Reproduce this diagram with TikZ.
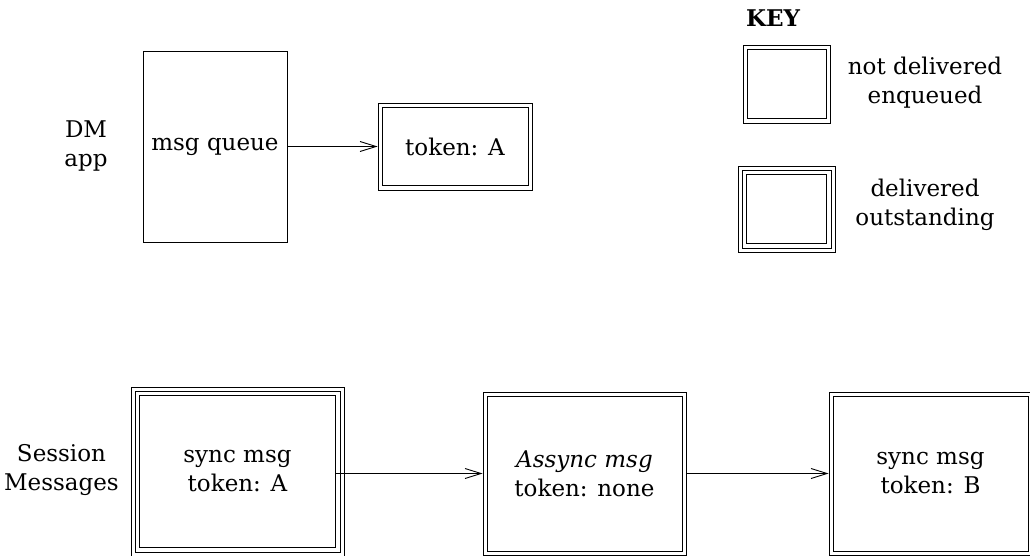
\documentclass[tikz,border=0pt]{standalone}
\usepackage{fontspec}
\setmainfont{DejaVu Serif}
\usetikzlibrary{arrows.meta}
\begin{document}
\begin{tikzpicture}[x=1pt,y=-1pt,
  box/.style={draw, line width=0.9pt, minimum width=#1, inner sep=0pt},
  txt/.style={font=\fontsize{23}{29}\selectfont, align=center, inner sep=0pt},
  arr/.style={line width=0.9pt, -{Straight Barb[length=16pt,width=10pt,line width=0.9pt]}},
  ln/.style={line width=0.9pt}
]
\useasboundingbox (0,0) rectangle (1030,556);
% top section
\node[box=144pt, minimum height=191pt, txt] (mq) at (215,146.5) {msg queue};
\node[box=154pt, minimum height=87pt, txt] (tok) at (455,146.5) {token: A};
\draw[ln] ([shift={(4.5,4.5)}]tok.north west) rectangle ([shift={(-4.5,-4.5)}]tok.south east);
\node[txt] (dm) at (86,146) {DM\\app};
\draw[arr] (mq.east) -- (tok.west);
% key
\node[txt, font=\fontsize{23}{29}\selectfont\bfseries] (key) at (773,18) {KEY};
\node[box=87pt, minimum height=78pt] (k1) at (786.5,84) {};
\draw[ln] ([shift={(4.5,4.5)}]k1.north west) rectangle ([shift={(-4.5,-4.5)}]k1.south east);
\node[txt] (k1t) at (925,83) {not delivered\\enqueued};
\node[box=97pt, minimum height=86pt] (k2) at (786.5,209) {};
\draw[ln] ([shift={(4.5,4.5)}]k2.north west) rectangle ([shift={(-4.5,-4.5)}]k2.south east);
\draw[ln] ([shift={(9,9)}]k2.north west) rectangle ([shift={(-9,-9)}]k2.south east);
\node[txt] (k2t) at (925,205) {delivered\\outstanding};
% session messages
\node[txt, anchor=east] (sm) at (119,470) {Session\\Messages};
\node[box=213pt, minimum height=169pt, txt] (s1) at (237.5,471.5) {sync msg\\token: A};
\draw[ln] ([shift={(4.5,4.5)}]s1.north west) rectangle ([shift={(-4.5,-4.5)}]s1.south east);
\draw[ln] ([shift={(9,9)}]s1.north west) rectangle ([shift={(-9,-9)}]s1.south east);
\node[box=203pt, minimum height=163pt, txt] (s2) at (584.5,473.5) {\itshape Assync msg\\token: none};
\draw[ln] ([shift={(4.5,4.5)}]s2.north west) rectangle ([shift={(-4.5,-4.5)}]s2.south east);
\node[box=203pt, minimum height=163pt, txt] (s3) at (930.5,473.5) {sync msg\\token: B};
\draw[ln] ([shift={(4.5,4.5)}]s3.north west) rectangle ([shift={(-4.5,-4.5)}]s3.south east);
\draw[arr] ([xshift=-9pt]s1.east |- s2.west) -- (s2.west);
\draw[arr] (s2.east) -- (s3.west);
\end{tikzpicture}
\end{document}
